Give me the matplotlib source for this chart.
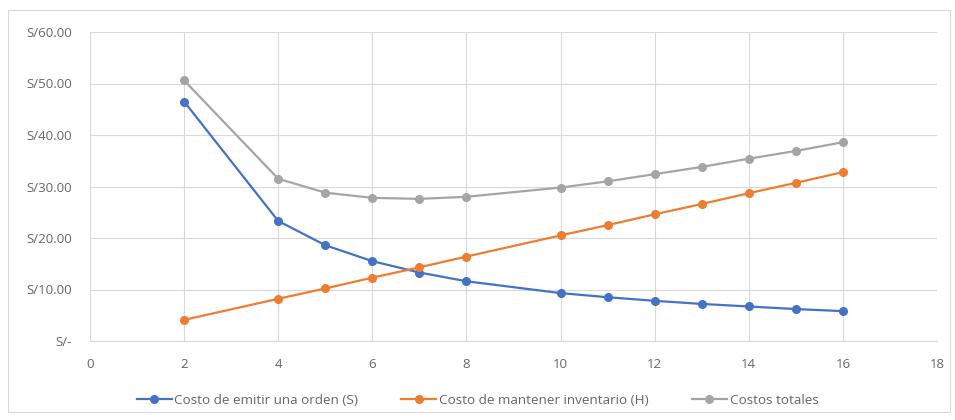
#!/usr/bin/env python3
"""Costos de inventario: costo de ordenar, costo de mantener y costo total."""
import matplotlib
matplotlib.use("Agg")
import matplotlib.pyplot as plt
from matplotlib.ticker import FuncFormatter

# tamaño de pedido (x) y costos
q = [2, 4, 5, 6, 7, 8, 10, 11, 12, 13, 14, 15, 16]
costo_s = [46.5, 23.3, 18.6, 15.5, 13.3, 11.6, 9.3, 8.5, 7.8, 7.2, 6.7, 6.2, 5.8]
costo_h = [4.1, 8.2, 10.2, 12.3, 14.3, 16.4, 20.5, 22.5, 24.6, 26.6, 28.7, 30.7, 32.8]
costo_t = [50.6, 31.5, 28.8, 27.8, 27.6, 28.0, 29.8, 31.0, 32.4, 33.8, 35.4, 36.9, 38.6]

labels = ["Costo de emitir una orden (S)",
          "Costo de mantener inventario (H)",
          "Costos totales"]
colors = ["#4472C4", "#ED7D31", "#A5A5A5"]

plt.rcParams["font.family"] = ["Open Sans", "DejaVu Sans"]
txt = "#666666"

fig = plt.figure(figsize=(9.55, 4.2), dpi=100)
ax = fig.add_axes([90 / 955, 1 - 341 / 420, (937 - 90) / 955, (341 - 32) / 420])

for ys, lab, c in zip([costo_s, costo_h, costo_t], labels, colors):
    ax.plot(q, ys, color=c, lw=1.6, marker="o", ms=5.5, label=lab)

ax.set_xlim(0, 18)
ax.set_ylim(0, 60)
ax.set_xticks(range(0, 19, 2))
ax.set_yticks(range(0, 61, 10))
ax.yaxis.set_major_formatter(FuncFormatter(lambda v, p: "S/-" if v == 0 else f"S/{v:.2f}"))
ax.grid(True, color="#D9D9D9", lw=0.8)
ax.set_axisbelow(True)
for s in ["top", "right", "left"]:
    ax.spines[s].set_visible(False)
ax.spines["bottom"].set_color("#D9D9D9")
ax.tick_params(length=0, labelsize=9.5, colors=txt)
ax.tick_params(axis="x", pad=12)
ax.tick_params(axis="y", pad=13)

fig.legend(loc="center", ncol=3, frameon=False, fontsize=9.7,
           labelcolor=txt, bbox_to_anchor=(0.5, 1 - 400 / 420),
           handlelength=2.6, handletextpad=0.2, columnspacing=3.2)

# borde del área del gráfico
fig.patches.append(plt.Rectangle((8 / 955, 8 / 420), 942 / 955, 402 / 420,
                                 transform=fig.transFigure, fill=False,
                                 ec="#D9D9D9", lw=0.8))

fig.savefig("out.png", dpi=100)
